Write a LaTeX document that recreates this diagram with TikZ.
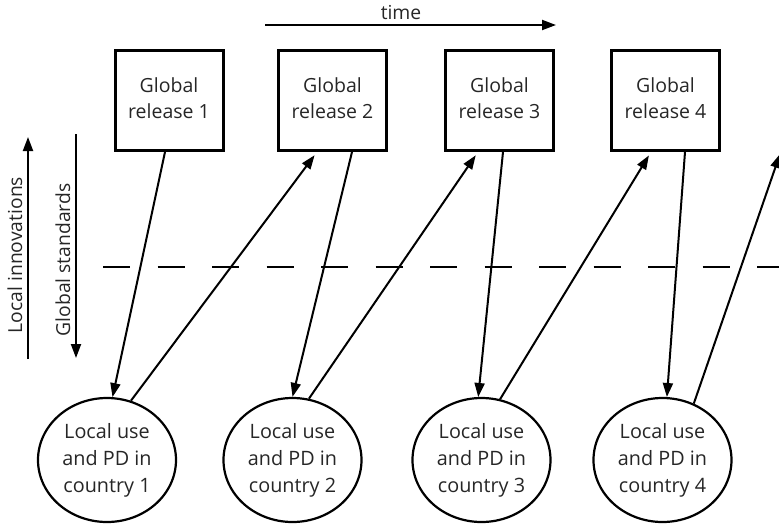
\documentclass[tikz,border=0pt]{standalone}
\usepackage{fontspec}
\setmainfont{Open Sans}
\usetikzlibrary{arrows.meta,shapes.geometric}
\tikzset{
  release/.style={draw, line width=3pt, minimum width=108pt, minimum height=100pt, inner sep=0pt},
  releasetext/.style={text=black!85, font=\fontsize{19.5}{26}\selectfont, align=center, inner sep=0pt},
  country/.style={draw, ellipse, line width=2.2pt, minimum width=138pt, minimum height=124pt,
    align=center, text=black!85, font=\fontsize{19.8}{27}\selectfont, inner sep=0pt},
  flow/.style={line width=2pt, -{Triangle[length=14pt,width=10pt]}},
  axislabel/.style={text=black!85, font=\fontsize{19.3}{22}\selectfont, inner sep=0pt}
}
\begin{document}
\begin{tikzpicture}[x=1pt,y=-1pt]
\useasboundingbox (0,0) rectangle (779,523);

% global releases
\node[release] (b1) at (169,100.5) {};
\node[release] (b2) at (332.5,100.5) {};
\node[release] (b3) at (499.5,100.5) {};
\node[release] (b4) at (665.5,100.5) {};
\foreach \k in {1,...,4}
  \node[releasetext] (t\k) at ([yshift=2pt]b\k.center) {Global\\release \k};

% local use in countries
\node[country] (c1) at (107,460) {Local use\\and PD in\\country 1};
\node[country] (c2) at (292.5,460) {Local use\\and PD in\\country 2};
\node[country] (c3) at (481.5,460) {Local use\\and PD in\\country 3};
\node[country] (c4) at (662.5,460) {Local use\\and PD in\\country 4};

% time axis
\coordinate (t0) at (265,25);
\coordinate (t1) at (556,25);
\draw[flow] (t0) -- (t1);
\node[axislabel] (time) at (401,13) {time};

% vertical axes
\coordinate (li0) at (28,359);
\coordinate (li1) at (28,137);
\draw[flow] (li0) -- (li1);
\node[axislabel, rotate=90] (litext) at (15,255) {Local innovations};
\coordinate (gs0) at (76,134);
\coordinate (gs1) at (76,358);
\draw[flow] (gs0) -- (gs1);
\node[axislabel, rotate=90] (gstext) at (63,260) {Global standards};

% dividing line
\coordinate (d0) at (103,267);
\coordinate (d1) at (790,267);
\draw[line width=1.8pt, dash pattern=on 27pt off 27.5pt] (d0) -- (d1);

% releases down to countries
\draw[flow] ([xshift=-4pt]b1.south) -- (c1.85);
\draw[flow] ([xshift=19.5pt]b2.south) -- (c2.90);
\draw[flow] ([xshift=3.5pt]b3.south) -- (c3.93);
\draw[flow] ([xshift=19.5pt]b4.south) -- (c4.86);

% countries up to the next release
\draw[flow, shorten >=4pt] (c1.68) -- ([xshift=-15.5pt]b2.south);
\draw[flow, shorten >=4pt] (c2.75) -- ([xshift=-21.5pt]b3.south);
\draw[flow, shorten >=4pt] (c3.73) -- ([xshift=-14.5pt]b4.south);
\coordinate (next) at (780,154);
\draw[flow] (c4.61) -- (next);
\end{tikzpicture}
\end{document}
